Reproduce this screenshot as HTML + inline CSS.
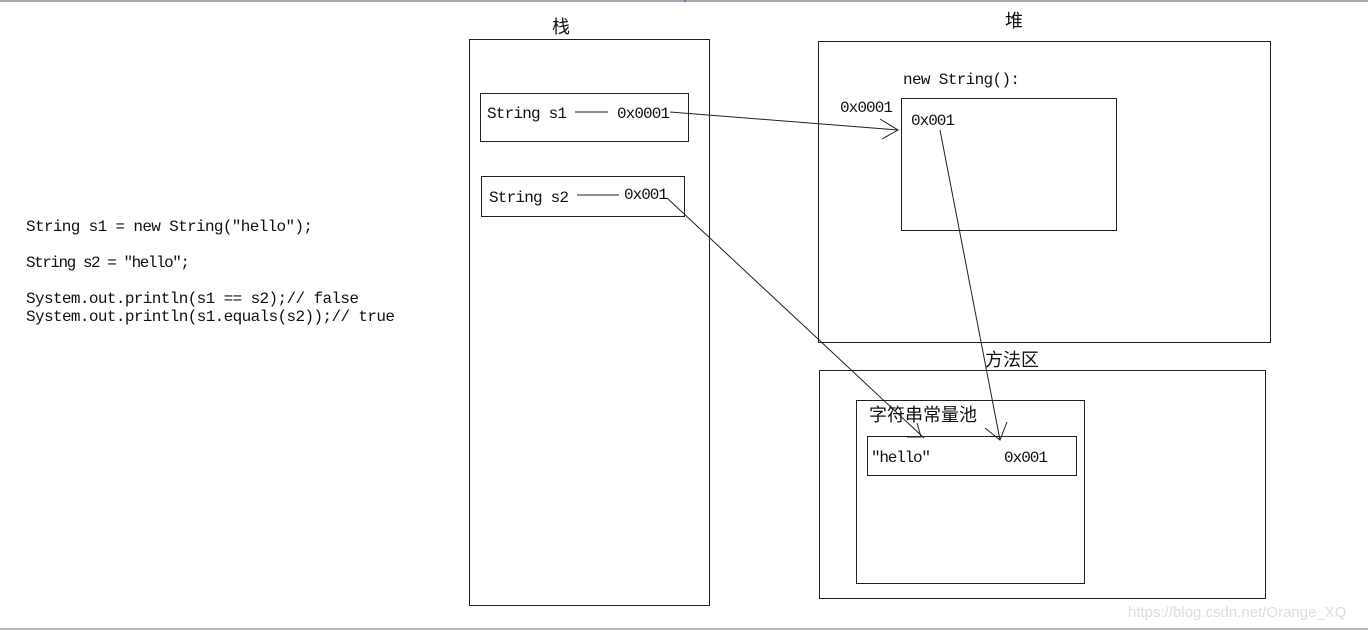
<!DOCTYPE html>
<html><head><meta charset="utf-8"><style>
html,body{margin:0;padding:0;background:#fff;}
svg{display:block;}
.m{font-family:"Liberation Mono","Noto Serif CJK SC",monospace;font-size:16px;fill:#111;}
.c{font-family:"Liberation Sans","Noto Sans CJK SC",sans-serif;font-size:18px;fill:#111;}
</style></head><body>
<svg width="1368" height="630" viewBox="0 0 1368 630" xmlns="http://www.w3.org/2000/svg">
<rect x="0" y="0" width="1368" height="2" fill="#a8a8a8"/>
<rect x="684" y="0" width="2" height="2" fill="#3a7bd5"/>
<rect x="0" y="628" width="1368" height="2" fill="#b8b8b8"/>
<g fill="none" stroke="#222" stroke-width="1">
<rect x="469.5" y="39.5" width="240" height="566"/>
<rect x="480.5" y="93.5" width="208" height="48"/>
<rect x="481.5" y="176.5" width="203" height="40"/>
<rect x="818.5" y="41.5" width="452" height="301"/>
<rect x="901.5" y="98.5" width="215" height="132"/>
<rect x="819.5" y="370.5" width="446" height="228"/>
<rect x="856.5" y="400.5" width="228" height="183"/>
<rect x="867.5" y="436.5" width="209" height="39"/>
<line x1="575" y1="112" x2="608" y2="112"/>
<line x1="577" y1="195" x2="619" y2="195"/>
<line x1="670" y1="112" x2="898" y2="130"/>
<polyline points="880,119 898,130 882,139"/>
<line x1="667" y1="198" x2="924" y2="438"/>
<polyline points="917,423 921,437 907,437"/>
<line x1="940" y1="130" x2="1000" y2="440"/>
<polyline points="985,428 1000,440 1007,422"/>
</g>
<text class="m" x="26" y="231" textLength="287">String s1 = new String("hello");</text>
<text class="m" x="26" y="267" textLength="164">String s2 = "hello";</text>
<text class="m" x="26" y="303" textLength="333">System.out.println(s1 == s2);// false</text>
<text class="m" x="26" y="321" textLength="369">System.out.println(s1.equals(s2));// true</text>
<text class="m" x="487" y="118" textLength="80">String s1</text>
<text class="m" x="617" y="118" textLength="53">0x0001</text>
<text class="m" x="489" y="202" textLength="80">String s2</text>
<text class="m" x="624" y="199" textLength="44">0x001</text>
<text class="m" x="903" y="84" textLength="117">new String():</text>
<text class="m" x="840" y="112" textLength="53">0x0001</text>
<text class="m" x="911" y="125" textLength="44">0x001</text>
<text class="m" x="871" y="462" textLength="60">"hello"</text>
<text class="m" x="1004" y="462" textLength="44">0x001</text>
<text class="c" x="552" y="33">栈</text>
<text class="c" x="1005" y="27">堆</text>
<text class="c" x="985" y="366">方法区</text>
<text class="c" x="869" y="421">字符串常量池</text>
<text x="1128" y="617" font-family="Liberation Sans,sans-serif" font-size="15" fill="#ddd">https://blog.csdn.net/Orange_XQ</text>
</svg>
</body></html>
